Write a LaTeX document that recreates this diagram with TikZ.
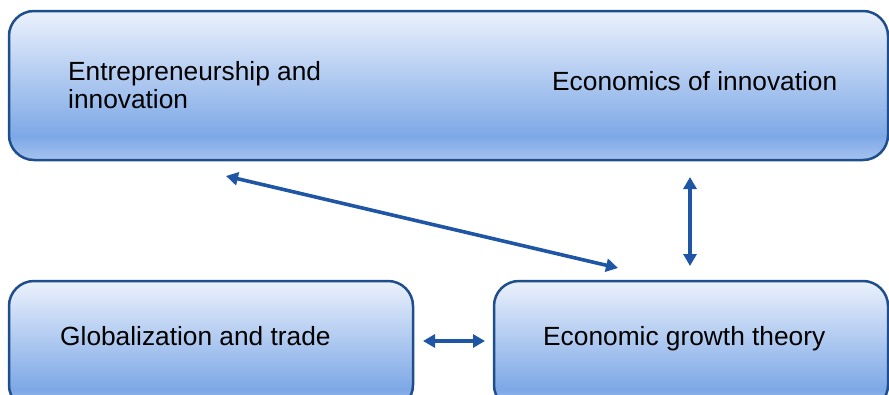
\documentclass[tikz,border=0pt]{standalone}
\usepackage{fontspec}
\setmainfont{Liberation Sans}
\usetikzlibrary{arrows.meta}

\definecolor{boxedge}{HTML}{1F4E8C}
\definecolor{linkblue}{HTML}{1F55A5}
\definecolor{shadeTop}{HTML}{EBF1FC}
\definecolor{shadeMid}{HTML}{7DA8E6}
\definecolor{shadeBot}{HTML}{A6C3EF}

% light at the top, deepest blue near the bottom, slightly lighter at the very bottom
\pgfdeclareverticalshading{panelshade}{100bp}{%
  color(0bp)=(shadeBot); color(25bp)=(shadeBot); color(33bp)=(shadeMid);
  color(75bp)=(shadeTop); color(100bp)=(shadeTop)}

\tikzset{
  panel/.style={draw=boxedge, line width=2.5pt, rounded corners=25pt,
    shading=panelshade, inner sep=0pt},
  label/.style={anchor=base west, inner sep=0pt, align=left,
    font=\fontsize{26.3}{28}\selectfont},
  link/.style={draw=linkblue, line width=3.6pt,
    {Triangle[length=12pt,width=13pt]}-{Triangle[length=12pt,width=13pt]}}
}

\begin{document}
\begin{tikzpicture}[x=1pt, y=-1pt]
  \useasboundingbox (0,0) rectangle (889,394);
  \clip (0,0) rectangle (889,394);

  % panels
  \node[panel, minimum width=879pt, minimum height=149pt] (research) at (448.5,85.5) {};
  \node[panel, minimum width=404pt, minimum height=129pt] (globe) at (211,345.5) {};
  \node[panel, minimum width=394pt, minimum height=129pt] (growth) at (691,345.5) {};

  % texts (the two-line label is placed by the baseline of its last line)
  \node[label] (entre) at (68,108) {Entrepreneurship and\\innovation};
  \node[label] (econinno) at (552,90) {Economics of innovation};
  \node[label] (globetxt) at (60,345) {Globalization and trade};
  \node[label] (growthtxt) at (543,345) {Economic growth theory};

  % connector end points
  \coordinate (hL) at (423,341);
  \coordinate (hR) at (485,341);
  \coordinate (dA) at (226,176);
  \coordinate (dB) at (618,268);
  \coordinate (vT) at (690,177);
  \coordinate (vB) at (690,266);

  % two-way links
  \draw[link] (hL) -- (hR);
  \draw[link] (dA) -- (dB);
  \draw[link] (vT) -- (vB);
\end{tikzpicture}
\end{document}
